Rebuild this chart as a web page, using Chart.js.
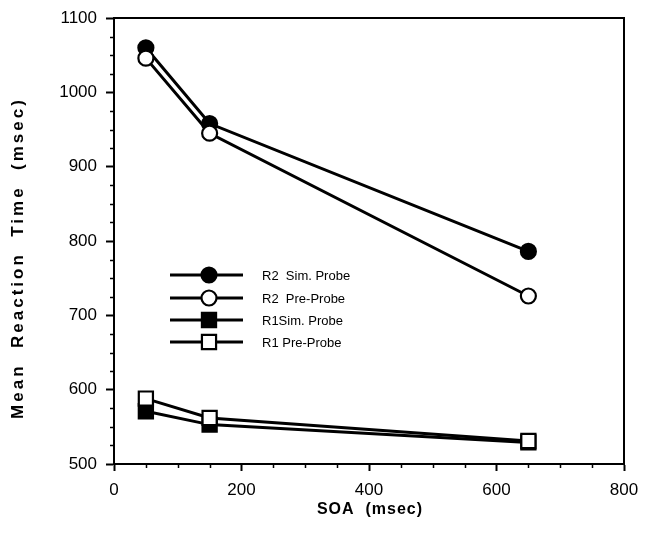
<!DOCTYPE html>
<html>
<head>
<meta charset="utf-8">
<script src="https://cdn.jsdelivr.net/npm/chart.js@4"></script>
<style>
  html, body { margin: 0; padding: 0; background: #fff; }
  #wrap { width: 645px; height: 534px; }
</style>
</head>
<body>
<div id="wrap"><canvas id="chartRT" width="645" height="534"></canvas></div>
<script>
'use strict';

// SOA values (msec)
const soa = [50, 150, 650];

// mean reaction times (msec)
const r2Sim = [1060, 958, 786];
const r2Pre = [1046, 945, 726];
const r1Sim = [571, 553, 529];
const r1Pre = [588, 562, 531];

const seriesLabels = ['R2  Sim. Probe', 'R2  Pre-Probe', 'R1Sim. Probe', 'R1 Pre-Probe'];

// axis ticks
const xMajor = [0, 200, 400, 600, 800];
const xMinor = [50, 100, 150, 250, 300, 350, 450, 500, 550, 650, 700, 750];
const yMajor = [500, 600, 700, 800, 900, 1000, 1100];
const yMinor = [525, 550, 575, 625, 650, 675, 725, 750, 775, 825, 850, 875,
                925, 950, 975, 1025, 1050, 1075];

const FONT = '"Liberation Sans", Arial, Helvetica, sans-serif';

function pts(ys) { return soa.map((x, i) => ({ x, y: ys[i] })); }

function series(idx, ys, style, filled, order) {
  return {
    label: seriesLabels[idx],
    data: pts(ys),
    borderColor: '#000',
    borderWidth: 3,
    pointStyle: style,
    pointRadius: style === 'rect' ? 10 : 7.5,
    pointBorderWidth: 2.2,
    pointBorderColor: '#000',
    pointBackgroundColor: filled ? '#000' : '#fff',
    order,
  };
}

// box, minor ticks, axis titles and in-plot legend
const decorPlugin = {
  id: 'decor',
  afterDraw(chart) {
    const { ctx, chartArea: a, scales } = chart;
    ctx.save();
    ctx.strokeStyle = '#000';
    ctx.lineWidth = 2;
    ctx.beginPath();
    ctx.moveTo(a.left, a.top); ctx.lineTo(a.right, a.top); ctx.lineTo(a.right, a.bottom);
    ctx.stroke();

    ctx.lineWidth = 1.5;
    ctx.beginPath();
    yMinor.forEach(v => {
      const y = Math.round(scales.y.getPixelForValue(v)) + 0.5;
      ctx.moveTo(a.left - 4, y); ctx.lineTo(a.left, y);
    });
    xMinor.forEach(v => {
      const x = Math.round(scales.x.getPixelForValue(v)) + 0.5;
      ctx.moveTo(x, a.bottom); ctx.lineTo(x, a.bottom + 4);
    });
    ctx.stroke();

    // axis titles
    ctx.fillStyle = '#000';
    ctx.textAlign = 'center';
    ctx.textBaseline = 'middle';
    ctx.font = 'bold 16px ' + FONT;
    ctx.letterSpacing = '1px';
    ctx.fillText('SOA  (msec)', (a.left + a.right) / 2 + 1, 510);
    ctx.save();
    ctx.font = 'bold 17px ' + FONT;
    ctx.letterSpacing = '3px';
    ctx.translate(18, 258);
    ctx.rotate(-Math.PI / 2);
    ctx.fillText('Mean  Reaction  Time  (msec)', 0, 0);
    ctx.restore();
    ctx.letterSpacing = '0px';

    // legend
    const rows = [275, 298, 320, 342];
    ctx.font = '13px ' + FONT;
    ctx.textAlign = 'left';
    chart.data.datasets.forEach((ds, i) => {
      const y = rows[i];
      ctx.strokeStyle = '#000';
      ctx.lineWidth = 3;
      ctx.beginPath(); ctx.moveTo(170, y); ctx.lineTo(243, y); ctx.stroke();
      ctx.fillStyle = ds.pointBackgroundColor;
      ctx.lineWidth = ds.pointBorderWidth;
      Chart.helpers.drawPoint(ctx, {
        pointStyle: ds.pointStyle, radius: ds.pointRadius, rotation: 0, borderWidth: ds.pointBorderWidth
      }, 209, y);
      ctx.fillStyle = '#000';
      ctx.fillText(ds.label, 262, y + 1);
    });
    ctx.restore();
  }
};

new Chart(document.getElementById('chartRT'), {
  type: 'line',
  data: {
    datasets: [
      series(0, r2Sim, 'circle', true, 1),
      series(1, r2Pre, 'circle', false, 0),
      series(2, r1Sim, 'rect', true, 1),
      series(3, r1Pre, 'rect', false, 0),
    ]
  },
  options: {
    responsive: false,
    animation: false,
    layout: { padding: { top: 18, right: 21, left: 0, bottom: 0 } },
    plugins: { legend: { display: false }, tooltip: { enabled: false } },
    scales: {
      x: {
        type: 'linear', min: 0, max: 800,
        afterFit(s) { s.height = 70; s.paddingLeft = 0; s.paddingRight = 0; },
        afterBuildTicks(s) { s.ticks = xMajor.map(v => ({ value: v })); },
        border: { display: true, color: '#000', width: 2 },
        grid: { display: true, drawOnChartArea: false, drawTicks: true, tickLength: 7, tickColor: '#000', tickWidth: 2 },
        ticks: { color: '#000', font: { family: FONT, size: 17 }, padding: 9, maxRotation: 0,
                 callback: v => String(v) },
      },
      y: {
        type: 'linear', min: 500, max: 1100,
        afterFit(s) { s.width = 114; s.paddingTop = 0; s.paddingBottom = 0; },
        afterBuildTicks(s) { s.ticks = yMajor.map(v => ({ value: v })); },
        border: { display: true, color: '#000', width: 2 },
        grid: { display: true, drawOnChartArea: false, drawTicks: true, tickLength: 8, tickColor: '#000', tickWidth: 2 },
        ticks: { color: '#000', font: { family: FONT, size: 17 }, padding: 9,
                 callback: v => String(v) },
      }
    }
  },
  plugins: [decorPlugin]
});
</script>
</body>
</html>
